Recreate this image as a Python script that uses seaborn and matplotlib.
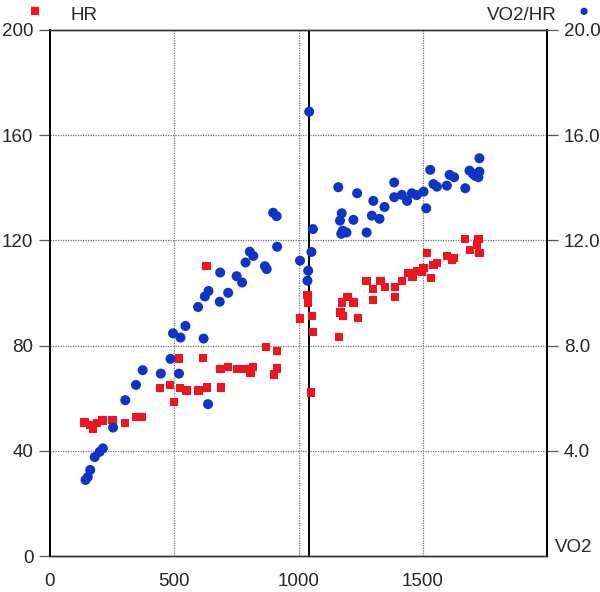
import numpy as np
import pandas as pd
import matplotlib
matplotlib.use("Agg")
import matplotlib.pyplot as plt
import seaborn as sns

# HR (left axis, red squares)
hr_vo2 = [139, 160, 173, 188, 211, 252, 303, 348, 371, 443, 483, 524, 549, 597,
          633, 688, 499, 519, 617, 630, 686, 717, 754, 791, 818, 807, 869, 914,
          914, 901, 1036, 1039, 1006, 1053, 1058, 1051, 1174, 1197, 1221, 1169,
          1179, 1240, 1164, 1274, 1300, 1330, 1348, 1389, 1416, 1442, 1459, 1476,
          1301, 1389, 1496, 1503, 1517, 1533, 1543, 1557, 1597, 1617, 1624, 1671,
          1724, 1691, 1718, 1728]
hr_vals = [50.8, 49.9, 48.6, 50.7, 51.6, 51.9, 50.7, 52.8, 52.8, 64.0, 65.1, 64.0,
           63.0, 63.0, 64.1, 64.1, 58.7, 75.1, 75.2, 110.3, 71.1, 72.0, 71.1, 71.1,
           72.0, 69.8, 79.6, 77.9, 71.3, 69.0, 99.3, 96.3, 90.3, 91.3, 85.3, 62.2,
           96.4, 98.5, 96.4, 92.6, 91.3, 90.4, 83.4, 104.6, 101.5, 104.7, 102.4,
           102.3, 104.6, 107.5, 106.2, 108.4, 97.4, 98.5, 108.1, 109.4, 115.1,
           105.6, 110.7, 111.3, 114.1, 112.6, 113.2, 120.5, 120.5, 116.4, 118.3,
           115.1]

# VO2/HR (right axis, blue dots)
ratio_vo2 = [143, 152, 162, 180, 200, 213, 254, 303, 346, 373, 446, 485, 519, 495,
             525, 545, 596, 618, 623, 638, 636, 685, 683, 717, 751, 773, 787, 804,
             818, 865, 872, 898, 912, 914, 1006, 1039, 1036, 1052, 1058, 1043, 1160,
             1236, 1174, 1167, 1221, 1178, 1193, 1172, 1274, 1295, 1326, 1301, 1346,
             1385, 1385, 1416, 1437, 1456, 1476, 1503, 1514, 1530, 1543, 1557, 1597,
             1608, 1626, 1671, 1688, 1702, 1711, 1724, 1728, 1728]
ratio_vals = [2.90, 3.01, 3.28, 3.77, 3.97, 4.10, 4.89, 5.93, 6.51, 7.07, 6.94, 7.50,
              6.94, 8.47, 8.31, 8.75, 9.47, 8.27, 9.87, 10.08, 5.78, 10.78, 9.67,
              10.01, 10.64, 10.40, 11.16, 11.57, 11.41, 11.02, 10.91, 13.05, 12.92,
              11.76, 11.23, 10.85, 10.47, 11.56, 12.43, 16.89, 14.02, 13.79, 13.03,
              12.75, 12.78, 12.37, 12.30, 12.25, 12.30, 12.94, 12.82, 13.50, 13.27,
              14.20, 13.64, 13.73, 13.50, 13.79, 13.72, 13.85, 13.22, 14.68, 14.14,
              14.04, 14.08, 14.49, 14.40, 13.98, 14.65, 14.53, 14.45, 14.40, 14.61,
              15.12]

x_ticks = [0, 500, 1000, 1500]
hr_ticks = [0, 40, 80, 120, 160, 200]
ratio_ticks = [4, 8, 12, 16, 20]
marker_line = 1043

red = "#f0141e"
blue = "#0f34c6"

sns.set_style("white")
plt.rcParams['font.family'] = ['Liberation Sans', 'DejaVu Sans']

df_hr = pd.DataFrame({'VO2': hr_vo2, 'HR': hr_vals})
df_ratio = pd.DataFrame({'VO2': ratio_vo2, 'VO2/HR': ratio_vals})

fig = plt.figure(figsize=(6, 5.92), dpi=100)
ax = fig.add_axes([0.0833, 0.0603, 0.8284, 0.8894])
ax2 = ax.twinx()

# grid
for gx in x_ticks[1:]:
    ax.axvline(gx, color='#777777', lw=0.9, ls=(0, (1, 1)), zorder=1)
for gy in hr_ticks[1:-1]:
    ax.axhline(gy, color='#777777', lw=0.9, ls=(0, (1, 1)), zorder=1)
ax.axvline(marker_line, color='black', lw=1.4, zorder=2)

sns.scatterplot(data=df_hr, x='VO2', y='HR', ax=ax, marker='s', s=36,
                color=red, edgecolor='none', zorder=3)
sns.scatterplot(data=df_ratio, x='VO2', y='VO2/HR', ax=ax2, marker='o', s=52,
                color=blue, edgecolor='none', zorder=3)

ax.set_xlim(0, 2000)
ax.set_ylim(0, 200)
ax2.set_ylim(0, 20)
ax.set_xticks(x_ticks)
ax.set_yticks(hr_ticks)
ax2.set_yticks(ratio_ticks)
ax2.set_yticklabels([f"{v:.1f}" for v in ratio_ticks])
ax.set_xlabel('')
ax.set_ylabel('')
ax2.set_ylabel('')

ax.tick_params(axis='both', direction='out', length=8, width=0.9, color='#555555',
               labelsize=13.5, pad=4)
ax.tick_params(axis='x', pad=4)
ax2.tick_params(axis='y', direction='out', length=8, width=0.9, color='#555555',
                labelsize=13.5, pad=4)

for a in (ax, ax2):
    a.spines['left'].set_linewidth(1.4)
    a.spines['left'].set_color('black')
    a.spines['right'].set_linewidth(1.4)
    a.spines['right'].set_color('black')
    a.spines['top'].set_linewidth(1.0)
    a.spines['top'].set_color('#333333')
    a.spines['bottom'].set_linewidth(1.0)
    a.spines['bottom'].set_color('#333333')

# header legend entries
fig.text(0.058, 0.980, '\u25A0', color=red, fontsize=12, ha='center', va='center')
fig.text(0.117, 0.974, 'HR', fontsize=13.5, ha='left', va='center')
fig.text(0.928, 0.974, 'VO2/HR', fontsize=13.5, ha='right', va='center')
fig.text(0.972, 0.980, '\u25CF', color=blue, fontsize=12, ha='center', va='center')
ax.text(1.015, 0.0, 'VO2', transform=ax.transAxes, fontsize=13.5, ha='left', va='bottom')

fig.savefig('out.png', dpi=100)
